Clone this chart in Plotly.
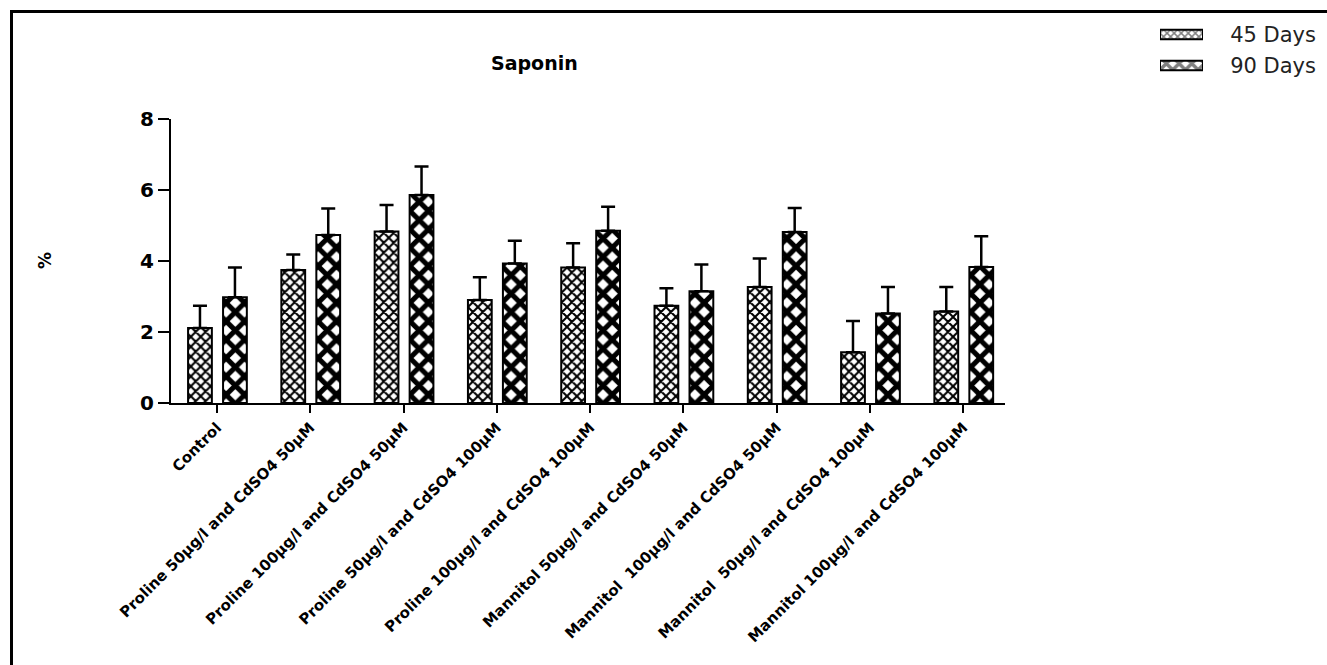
import plotly.graph_objects as go

W, H = 1327, 665

categories = [
    "Control",
    "Proline 50µg/l and CdSO4 50µM",
    "Proline 100µg/l and CdSO4 50µM",
    "Proline 50µg/l and CdSO4 100µM",
    "Proline 100µg/l and CdSO4 100µM",
    "Mannitol 50µg/l and CdSO4 50µM",
    "Mannitol  100µg/l and CdSO4 50µM",
    "Mannitol  50µg/l and CdSO4 100µM",
    "Mannitol 100µg/l and CdSO4 100µM",
]
days45 = [2.11, 3.75, 4.83, 2.90, 3.82, 2.74, 3.27, 1.43, 2.58]
err45 = [0.63, 0.43, 0.75, 0.64, 0.68, 0.49, 0.80, 0.88, 0.69]
days90 = [2.98, 4.73, 5.86, 3.93, 4.85, 3.15, 4.82, 2.52, 3.83]
err90 = [0.84, 0.75, 0.80, 0.64, 0.68, 0.75, 0.67, 0.75, 0.87]
series_names = ["45 Days", "90 Days"]
y_ticks = [0, 2, 4, 6, 8]

def px_x(p):
    return p / W

def px_y(p):
    return 1 - p / H

pat45 = dict(shape="x", size=7, solidity=0.5, fgcolor="black", bgcolor="white", fillmode="replace")
pat90 = dict(shape="x", size=13, solidity=0.62, fgcolor="black", bgcolor="white", fillmode="replace")

fig = go.Figure()

bar_w = 0.255
fig.add_trace(go.Bar(
    x=categories, y=days45, name=series_names[0],
    width=bar_w, offset=-0.31,
    marker=dict(color="white", pattern=pat45, line=dict(color="black", width=2)),
    error_y=dict(type="data", array=err45, arrayminus=[0] * len(err45), symmetric=False,
                 color="black", thickness=2.5, width=7),
    showlegend=False,
))
fig.add_trace(go.Bar(
    x=categories, y=days90, name=series_names[1],
    width=bar_w, offset=0.065,
    marker=dict(color="white", pattern=pat90, line=dict(color="black", width=2)),
    error_y=dict(type="data", array=err90, arrayminus=[0] * len(err90), symmetric=False,
                 color="black", thickness=2.5, width=7),
    showlegend=False,
))

# legend swatches drawn as horizontal bars on a small helper axis
fig.add_trace(go.Bar(
    x=[1], y=[series_names[0]], orientation="h", width=0.3,
    marker=dict(color="white", pattern=dict(shape="x", size=5, solidity=0.5, fgcolor="black", bgcolor="white"),
                line=dict(color="black", width=2)),
    xaxis="x2", yaxis="y2", showlegend=False, hoverinfo="skip",
))
fig.add_trace(go.Bar(
    x=[1], y=[series_names[1]], orientation="h", width=0.3,
    marker=dict(color="white", pattern=dict(shape="x", size=9, solidity=0.62, fgcolor="black", bgcolor="white"),
                line=dict(color="black", width=2)),
    xaxis="x2", yaxis="y2", showlegend=False, hoverinfo="skip",
))

fig.update_layout(
    width=W, height=H,
    margin=dict(l=0, r=0, t=0, b=0),
    paper_bgcolor="white", plot_bgcolor="white",
    barmode="group",
    showlegend=False,
    xaxis=dict(
        domain=[px_x(171), px_x(1005)],
        range=[-0.493, 8.447],
        showline=True, linecolor="black", linewidth=2,
        ticks="outside", ticklen=8, tickwidth=2, tickcolor="black",
        tickangle=-45,
        tickfont=dict(family="DejaVu Sans", size=15, color="black", weight="bold"),
        showgrid=False, zeroline=False, automargin=False,
    ),
    yaxis=dict(
        domain=[px_y(403), px_y(119)],
        range=[0, 8],
        tickvals=y_ticks,
        showline=True, linecolor="black", linewidth=2,
        ticks="outside", ticklen=11, tickwidth=2, tickcolor="black",
        tickfont=dict(family="DejaVu Sans", size=20, color="black", weight="bold"),
        showgrid=False, zeroline=False, automargin=False,
    ),
    xaxis2=dict(
        domain=[px_x(1160), px_x(1203)], anchor="y2", range=[0, 1],
        showline=False, showgrid=False, zeroline=False, showticklabels=False,
        fixedrange=True,
    ),
    yaxis2=dict(
        domain=[px_y(81), px_y(19)], anchor="x2", side="right",
        type="category", categoryorder="array",
        categoryarray=[series_names[1], series_names[0]],
        range=[-0.5, 1.5],
        showline=False, showgrid=False, zeroline=False,
        ticks="outside", ticklen=22, tickcolor="rgba(0,0,0,0)",
        tickfont=dict(family="DejaVu Sans", size=21, color="#222222"),
        fixedrange=True, automargin=False,
    ),
    annotations=[
        dict(text="Saponin", x=px_x(534), y=px_y(63), xref="paper", yref="paper",
             showarrow=False, xanchor="center", yanchor="middle",
             font=dict(family="DejaVu Sans", size=19, color="black", weight="bold")),
        dict(text="%", x=px_x(45), y=px_y(261), xref="paper", yref="paper",
             showarrow=False, xanchor="center", yanchor="middle", textangle=-90,
             font=dict(family="DejaVu Sans", size=17, color="black", weight="bold")),
    ],
    shapes=[
        dict(type="line", xref="paper", yref="paper",
             x0=px_x(11.5), x1=px_x(11.5), y0=px_y(11.5), y1=-0.02,
             line=dict(color="black", width=3)),
        dict(type="line", xref="paper", yref="paper",
             x0=px_x(10), x1=1.02, y0=px_y(11.5), y1=px_y(11.5),
             line=dict(color="black", width=3)),
    ],
)

fig.write_html(
    "out.html",
    config={"displayModeBar": False},
    post_script="document.body.style.margin='0';document.body.style.overflow='hidden';",
)
